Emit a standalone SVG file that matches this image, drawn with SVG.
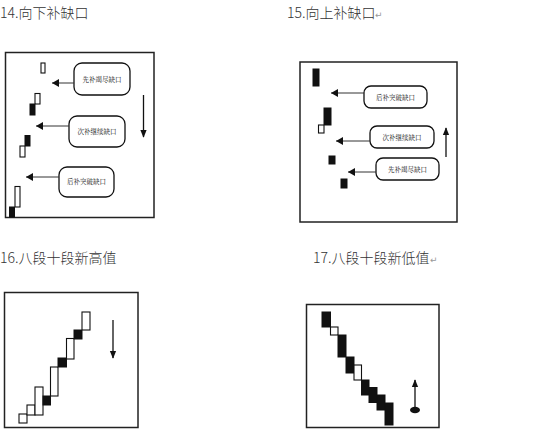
<svg xmlns="http://www.w3.org/2000/svg" width="551" height="447" viewBox="0 0 551 447">
<defs>
<style>
.title{font-family:"Noto Sans CJK SC","Liberation Sans",sans-serif;font-size:14px;font-weight:300;fill:#333}
.ret{font-family:"DejaVu Sans",sans-serif;font-size:9px;fill:#999}
.frame{fill:#fff;stroke:#222;stroke-width:1.5}
.box{fill:#fff;stroke:#111;stroke-width:1.3}
.lbl{font-family:"Noto Serif CJK SC","Noto Sans CJK SC",serif;font-size:6.5px;fill:#111;text-anchor:middle}
.w{fill:#fff;stroke:#111;stroke-width:1.1}
.b{fill:#111;stroke:#111;stroke-width:1}
.ln{stroke:#333;stroke-width:1;fill:none}
.ln2{stroke:#111;stroke-width:1.3;fill:none}
</style>
<marker id="ah" markerWidth="8" markerHeight="8" refX="7" refY="4" orient="auto" markerUnits="userSpaceOnUse"><path d="M0,0 L7,4 L0,8 Z" fill="#111"/></marker>
<marker id="ah2" markerWidth="8" markerHeight="10" refX="9" refY="4" orient="auto" markerUnits="userSpaceOnUse" viewBox="0 0 10 8"><path d="M0,0 L10,4 L0,8 Z" fill="#111"/></marker>
</defs>
<rect width="551" height="447" fill="#fff"/>

<g id="panel14">
<text class="title" x="0" y="18">14.向下补缺口</text>
<rect class="frame" x="5.5" y="52.5" width="148.5" height="165"/>
<g id="p14-candles">
<rect class="w" x="41" y="63" width="4" height="10"/>
<rect class="w" x="35" y="93.5" width="5" height="10.5"/>
<rect class="b" x="30" y="104" width="5" height="11"/>
<rect class="b" x="25" y="135.5" width="5" height="10.5"/>
<rect class="w" x="20" y="146" width="5" height="11"/>
<rect class="w" x="15" y="186.5" width="5" height="20.5"/>
<rect class="b" x="9.5" y="207" width="5" height="10"/>
</g>
<g id="p14-box1"><rect class="box" x="74" y="63" width="56" height="32" rx="8"/><text class="lbl" x="102" y="81.5">先补竭尽缺口</text></g>
<g id="p14-box2"><rect class="box" x="69" y="116" width="56" height="31" rx="8"/><text class="lbl" x="97" y="133.5">次补继续缺口</text></g>
<g id="p14-box3"><rect class="box" x="59" y="167" width="55" height="30" rx="8"/><text class="lbl" x="86.5" y="184">后补突破缺口</text></g>
</g>

<g id="panel15">
<text class="title" x="287" y="18">15.向上补缺口</text><text class="ret" x="375" y="18">↵</text>
<rect class="frame" x="300" y="62" width="157" height="160"/>
<g id="p15-candles">
<rect class="b" x="313" y="69" width="6" height="17"/>
<rect class="b" x="324" y="108" width="7" height="17"/>
<rect class="w" x="318.5" y="125" width="5.5" height="8"/>
<rect class="b" x="329" y="156" width="6" height="8"/>
<rect class="b" x="341" y="179" width="6" height="9"/>
</g>
<g id="p15-box1"><rect class="box" x="364" y="86" width="63" height="22" rx="7"/><text class="lbl" x="395.5" y="99.5">后补突破缺口</text></g>
<g id="p15-box2"><rect class="box" x="370" y="126" width="64" height="22" rx="7"/><text class="lbl" x="402" y="139.5">次补继续缺口</text></g>
<g id="p15-box3"><rect class="box" x="376" y="158" width="63" height="22" rx="7"/><text class="lbl" x="407.5" y="171.5">先补竭尽缺口</text></g>
</g>

<g id="panel16">
<text class="title" x="0" y="263">16.八段十段新高值</text>
<rect class="frame" x="4.5" y="292.5" width="133.5" height="135"/>
<g id="p16-candles">
<rect class="w" x="19" y="414" width="8" height="9"/>
<rect class="w" x="27" y="405" width="8" height="10"/>
<rect class="w" x="35" y="387" width="8" height="28"/>
<rect class="b" x="43" y="396" width="7.5" height="9"/>
<rect class="w" x="50.5" y="367" width="7.5" height="29"/>
<rect class="b" x="58" y="358" width="8.5" height="9"/>
<rect class="w" x="66.5" y="338.5" width="7.5" height="20.5"/>
<rect class="b" x="74" y="330" width="8" height="9"/>
<rect class="w" x="82" y="312" width="8" height="18"/>
</g>
</g>

<g id="panel17">
<text class="title" x="313" y="263">17.八段十段新低值</text><text class="ret" x="430" y="263">↵</text>
<rect class="frame" x="306.5" y="304.5" width="132.5" height="123"/>
<g id="p17-candles">
<rect class="b" x="322" y="312" width="8.5" height="15"/>
<rect class="w" x="330.5" y="327" width="7.5" height="8"/>
<rect class="b" x="338" y="335" width="8" height="22"/>
<rect class="b" x="346" y="357" width="8" height="16"/>
<rect class="w" x="354" y="365" width="7.5" height="15"/>
<rect class="b" x="361.5" y="380" width="7.5" height="15"/>
<rect class="b" x="369" y="387.5" width="8" height="15"/>
<rect class="b" x="377" y="395" width="8" height="15"/>
<rect class="b" x="385" y="403" width="8" height="22"/>
</g>
<ellipse cx="415" cy="410" rx="5" ry="3.2" fill="#111"/>
</g>

<g id="connectors">
<line class="ln" x1="74" y1="83" x2="52" y2="83" marker-end="url(#ah)"/>
<line class="ln" x1="69" y1="126" x2="36" y2="126" marker-end="url(#ah)"/>
<line class="ln" x1="59" y1="177" x2="26" y2="177" marker-end="url(#ah)"/>
<line class="ln2" x1="143.5" y1="95" x2="143.5" y2="137" marker-end="url(#ah2)"/>
<line class="ln" x1="364" y1="93" x2="331" y2="93" marker-end="url(#ah)"/>
<line class="ln" x1="370" y1="141" x2="336" y2="141" marker-end="url(#ah)"/>
<line class="ln" x1="376" y1="172" x2="348" y2="172" marker-end="url(#ah)"/>
<line class="ln2" x1="446" y1="157" x2="446" y2="128" marker-end="url(#ah2)"/>
<line class="ln2" x1="113" y1="320" x2="113" y2="358" marker-end="url(#ah2)"/>
<line class="ln2" x1="415" y1="410" x2="415" y2="380" marker-end="url(#ah2)"/>
</g>
</svg>
